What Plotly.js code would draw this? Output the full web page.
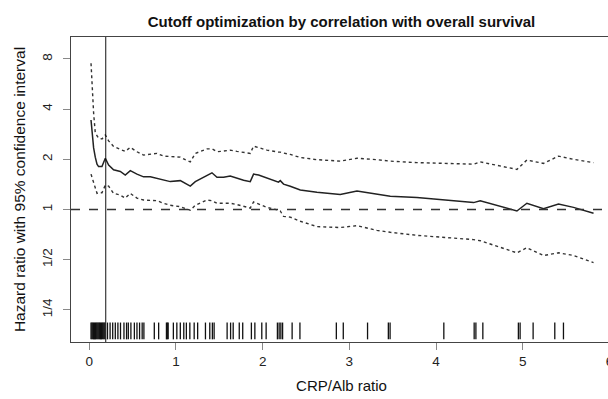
<!DOCTYPE html>
<html>
<head>
<meta charset="utf-8">
<script src="https://cdn.plot.ly/plotly-3.0.1.min.js"></script>
<style>
html,body{margin:0;padding:0;overflow:hidden;background:#fff;width:608px;height:399px;}
#chart{width:620px;height:399px;}
</style>
</head>
<body>
<div id="chart"></div>
<script>
// CRP/Alb ratio cutoff values
const cutoffX = [0.020,0.031,0.050,0.069,0.089,0.107,0.146,0.185,0.223,0.280,0.358,0.415,0.473,0.550,0.626,0.704,0.781,0.857,0.934,1.050,1.107,1.165,1.223,1.300,1.358,1.415,1.473,1.549,1.626,1.704,1.780,1.857,1.895,1.953,2.050,2.183,2.203,2.241,2.318,2.434,2.626,2.895,3.088,3.318,3.472,3.780,4.164,4.433,4.510,4.702,4.933,5.048,5.240,5.413,5.586,5.817];
// Hazard ratio
const hazardRatio = [3.44,2.88,2.34,2.06,1.87,1.81,1.81,2.03,1.85,1.73,1.69,1.61,1.71,1.63,1.57,1.57,1.54,1.50,1.47,1.49,1.44,1.38,1.47,1.54,1.61,1.66,1.56,1.56,1.59,1.54,1.50,1.47,1.63,1.61,1.54,1.46,1.49,1.42,1.38,1.31,1.27,1.23,1.29,1.24,1.20,1.18,1.13,1.10,1.13,1.06,0.98,1.09,1.01,1.08,1.03,0.95];
// Upper 95% CI
const upperCI = [7.53,5.74,3.79,2.88,2.76,2.68,2.65,2.80,2.58,2.39,2.29,2.23,2.36,2.22,2.12,2.15,2.17,2.09,2.07,2.06,1.99,1.93,2.17,2.24,2.31,2.31,2.22,2.24,2.27,2.23,2.20,2.17,2.40,2.35,2.27,2.21,2.21,2.18,2.14,2.05,1.99,1.95,2.03,1.99,1.95,1.91,1.89,1.87,1.93,1.85,1.74,1.98,1.89,2.09,2.00,1.91];
// Lower 95% CI
const lowerCI = [1.63,1.57,1.47,1.35,1.25,1.26,1.26,1.40,1.38,1.25,1.22,1.17,1.25,1.17,1.14,1.13,1.13,1.09,1.06,1.04,1.02,0.99,1.06,1.10,1.14,1.13,1.09,1.09,1.09,1.07,1.04,1.02,1.11,1.08,1.03,0.99,0.98,0.91,0.90,0.85,0.79,0.78,0.80,0.75,0.73,0.70,0.68,0.66,0.65,0.60,0.55,0.59,0.53,0.55,0.53,0.48];
// Observed CRP/Alb ratios (rug)
const observedRatios = [0.02,0.03,0.04,0.05,0.06,0.07,0.08,0.09,0.10,0.11,0.12,0.13,0.14,0.15,0.16,0.17,0.18,0.21,0.24,0.27,0.30,0.33,0.36,0.40,0.43,0.45,0.48,0.52,0.55,0.58,0.61,0.63,0.75,0.80,0.89,0.90,0.91,0.97,1.01,1.05,1.09,1.12,1.16,1.21,1.25,1.34,1.39,1.42,1.44,1.59,1.63,1.66,1.73,1.77,1.87,1.91,1.99,2.04,2.17,2.19,2.21,2.23,2.34,2.43,2.85,2.93,3.21,3.45,3.47,4.09,4.44,4.46,4.54,4.95,4.97,5.12,5.37,5.47];
const rugLevel = 0.187;
const optimalCutoff = 0.19;
const referenceHR = 1;
const yTickVals = [0.25,0.5,1,2,4,8];
const yTickText = ['1/4','1/2','1','2','4','8'];
const xTickVals = [0,1,2,3,4,5,6];

const FONT = 'Liberation Sans, Arial, Helvetica, sans-serif';

const traces = [
  {x: cutoffX, y: upperCI, mode:'lines', line:{color:'#333', width:1.4, dash:'dot'}, hoverinfo:'skip'},
  {x: cutoffX, y: lowerCI, mode:'lines', line:{color:'#333', width:1.4, dash:'dot'}, hoverinfo:'skip'},
  {x: cutoffX, y: hazardRatio, mode:'lines', line:{color:'#222', width:1.5}, hoverinfo:'skip'},
  {x: observedRatios, y: observedRatios.map(()=>rugLevel), mode:'markers',
   marker:{symbol:'line-ns-open', size:12, color:'#111', line:{color:'#111', width:1.3}}, hoverinfo:'skip'}
];

const layout = {
  width: 620, height: 399,
  margin: {l:71, r:8, t:37, b:57},
  paper_bgcolor:'#fff', plot_bgcolor:'#fff',
  showlegend:false,
  font:{family:FONT, color:'#222', size:13},
  title:{text:'Cutoff optimization by correlation with overall survival', font:{family:FONT, size:15, color:'#111', weight:'bold'}, x:0.5, xref:'paper', xanchor:'center', y:0.958, yref:'container'},
  xaxis:{
    range:[-0.211, 6.03], tickvals:xTickVals, ticks:'outside', ticklen:7, tickcolor:'#888', tickwidth:1,
    showline:true, linecolor:'#444', linewidth:1, mirror:true, showgrid:false, zeroline:false,
    tickfont:{size:13.5, color:'#222'},
    title:{text:'CRP/Alb ratio', font:{size:15, color:'#111'}, standoff:12}
  },
  yaxis:{
    type:'log', range:[-0.7944, 1.0344], tickvals:yTickVals, ticktext:yTickText, tickangle:-90,
    ticks:'outside', ticklen:7, tickcolor:'#888', tickwidth:1, ticklabelstandoff:6,
    showline:true, linecolor:'#444', linewidth:1, mirror:true, showgrid:false, zeroline:false,
    tickfont:{size:13.5, color:'#222'},
    title:{text:'Hazard ratio with 95% confidence interval', font:{size:15.5, color:'#111'}, standoff:10}
  },
  shapes:[
    {type:'line', xref:'paper', x0:0, x1:1, yref:'y', y0:referenceHR, y1:referenceHR, line:{color:'#333', width:1.5, dash:'dash'}},
    {type:'line', xref:'x', x0:optimalCutoff, x1:optimalCutoff, yref:'paper', y0:0, y1:1, line:{color:'#111', width:1}}
  ]
};

Plotly.newPlot('chart', traces, layout, {staticPlot:true, displayModeBar:false});
</script>
</body>
</html>
